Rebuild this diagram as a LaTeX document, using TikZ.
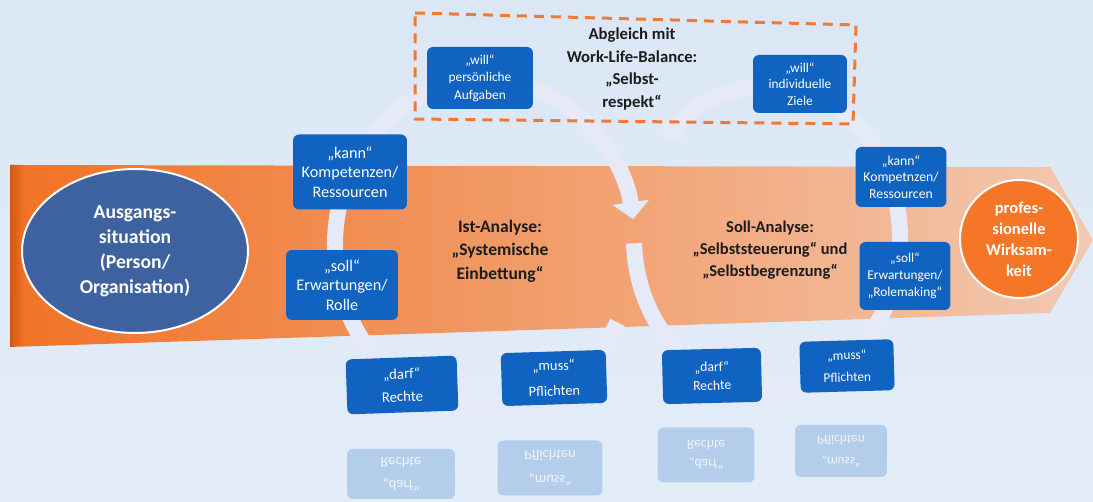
\documentclass[tikz,border=0pt]{standalone}
\usepackage{fontspec}
\setmainfont{Carlito}
\usetikzlibrary{arrows.meta,shapes.geometric}
\definecolor{bgtop}{RGB}{219,231,245}
\definecolor{bgbot}{RGB}{227,237,248}
\definecolor{boxblue}{RGB}{16,99,192}
\definecolor{bandD}{RGB}{214,86,22}
\definecolor{bandL}{RGB}{241,114,38}
\definecolor{bandM}{RGB}{243,150,98}
\definecolor{bandR}{RGB}{242,201,178}
\definecolor{ringcol}{RGB}{230,233,247}
\definecolor{ellblue}{RGB}{62,98,160}
\definecolor{dashorange}{RGB}{240,122,52}
\definecolor{wirkorange}{RGB}{245,118,38}
\definecolor{ink}{RGB}{28,28,28}

\begin{document}
\begin{tikzpicture}[x=0.02cm, y=-0.02cm,
	card/.style={fill=boxblue, rounded corners=0.12cm, text=white, align=center, inner sep=0pt},
	reflcard/.style={card, yscale=-1, fill opacity=0.22, text opacity=0.8},
	ring/.style={line width=0.32cm, draw=ringcol, -{Triangle[width=0.72cm, length=0.34cm]}},
	heading/.style={align=center, text=ink, font=\bfseries\fontsize{10}{13.3}\selectfont}]

	\useasboundingbox (0,0) rectangle (1093,502);
	\shade[top color=bgtop, bottom color=bgbot] (0,0) rectangle (1093,502);

	\shade[left color=bandL, middle color=bandM, right color=bandR] (10,165) -- (1050,167) -- (1093,240) -- (1050,313) -- (10,347) -- cycle;
	\shade[left color=bandD, right color=bandL] (10,165) -- (24,165) -- (24,345) -- (10,347) -- cycle;

	\draw[ring] (485,245) ++(28:150 and 165) arc[start angle=28, end angle=351, x radius=150, y radius=165];
	\draw[ring] (767,238) ++(178:133 and 152) arc[start angle=178, end angle=-140, x radius=133, y radius=152];

	\node[reflcard, minimum width=2.16cm, minimum height=1.0cm, font=\fontsize{8.4}{13}\selectfont] (darfIstR) at (401,474) {„darf“\\Rechte};
	\node[reflcard, minimum width=2.1cm, minimum height=1.1cm, font=\fontsize{8.2}{14.5}\selectfont] (mussIstR) at (550,468) {„muss“\\Pflichten};
	\node[reflcard, minimum width=1.94cm, minimum height=1.1cm, font=\fontsize{7.8}{10.5}\selectfont] (darfSollR) at (706,455) {„darf“\\Rechte};
	\node[reflcard, minimum width=1.84cm, minimum height=1.04cm, font=\fontsize{7.6}{12.5}\selectfont] (mussSollR) at (841,451) {„muss“\\Pflichten};

	\node[ellipse, draw=white, line width=0.04cm, fill=ellblue, minimum width=4.52cm, minimum height=3.28cm, text=white, align=center, font=\bfseries\fontsize{11.2}{14.2}\selectfont] (ausgang) at (135,251) {Ausgangs-\\situation\\(Person/\\Organisation)};
	\node[circle, draw=white, line width=0.04cm, fill=wirkorange, minimum size=2.36cm, inner sep=0pt, text=white, align=center, font=\bfseries\fontsize{9.4}{12}\selectfont] (wirksam) at (1019,239) {profes-\\sionelle\\Wirksam-\\keit};

	\node[heading] (ist) at (500,251) {Ist-Analyse:\\„Systemische\\Einbettung“};
	\node[heading, font=\bfseries\fontsize{9.4}{12.7}\selectfont] (soll) at (770,250) {Soll-Analyse:\\„Selbststeuerung“ und\\„Selbstbegrenzung“};
	\node[heading, font=\bfseries\fontsize{9.5}{13}\selectfont] (abgleich) at (632,69) {Abgleich mit\\Work-Life-Balance:\\„Selbst-\\respekt“};

	\node[card, minimum width=2.12cm, minimum height=1.24cm, font=\fontsize{7.6}{10}\selectfont] (willAufg) at (480,78) {„will“\\persönliche\\Aufgaben};
	\node[card, minimum width=1.88cm, minimum height=1.16cm, font=\fontsize{7.6}{9.4}\selectfont] (willZiele) at (800,84) {„will“\\individuelle\\Ziele};

	\node[card, minimum width=2.28cm, minimum height=1.5cm, font=\fontsize{9.2}{11.2}\selectfont] (kannIst) at (350,172) {„kann“\\Kompetenzen/\\Ressourcen};
	\node[card, minimum width=2.24cm, minimum height=1.4cm, font=\fontsize{9.2}{11.2}\selectfont] (sollIst) at (342,285) {„soll“\\Erwartungen/\\Rolle};
	\node[card, rotate=2, minimum width=2.22cm, minimum height=1.1cm, font=\fontsize{8.4}{13}\selectfont] (darfIst) at (402,385) {„darf“\\Rechte};
	\node[card, rotate=1.8, minimum width=2.1cm, minimum height=1.06cm, font=\fontsize{8.2}{14.5}\selectfont] (mussIst) at (554,378) {„muss“\\Pflichten};

	\node[card, minimum width=1.82cm, minimum height=1.2cm, font=\fontsize{7.8}{9.6}\selectfont] (kannSoll) at (901,177) {„kann“\\Kompetnzen/\\Ressourcen};
	\node[card, minimum width=1.82cm, minimum height=1.36cm, font=\fontsize{7.6}{9.8}\selectfont] (sollSoll) at (905,276) {„soll“\\Erwartungen/\\„Rolemaking“};
	\node[card, rotate=1.4, minimum width=1.98cm, minimum height=1.08cm, font=\fontsize{7.8}{10.5}\selectfont] (darfSoll) at (712,376) {„darf“\\Rechte};
	\node[card, rotate=1.6, minimum width=1.88cm, minimum height=1.02cm, font=\fontsize{7.6}{12.5}\selectfont] (mussSoll) at (847,366) {„muss“\\Pflichten};

	\draw[dashorange, line width=0.06cm, dash pattern=on 0.2cm off 0.14cm] (415,13) -- (856,25) -- (853,124) -- (415,119) -- cycle;
\end{tikzpicture}
\end{document}
